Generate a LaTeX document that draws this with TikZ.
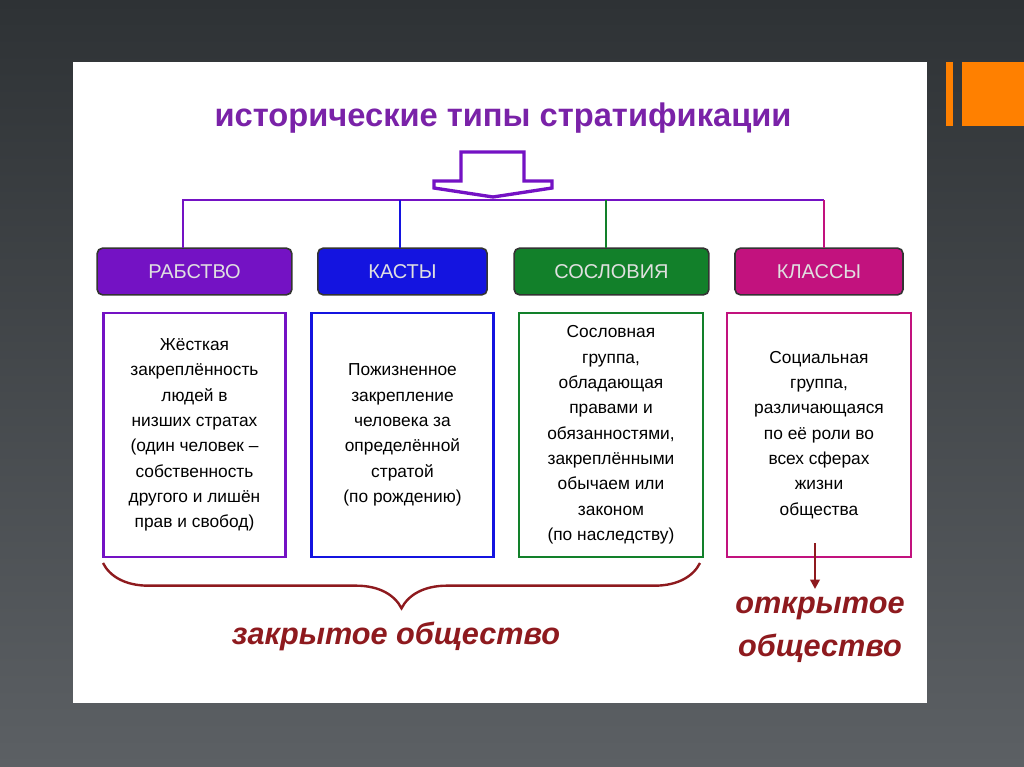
\documentclass[tikz,border=0pt]{standalone}
\usepackage{fontspec}
\setmainfont{Liberation Sans}
\usetikzlibrary{decorations.pathreplacing,arrows.meta}
\definecolor{cpur}{HTML}{7412C4}
\definecolor{cblu}{HTML}{1414E0}
\definecolor{cgrn}{HTML}{12802A}
\definecolor{cmag}{HTML}{C2127E}
\definecolor{ctit}{HTML}{7A22A8}
\definecolor{cred}{HTML}{8E1A1E}
\definecolor{bgtop}{HTML}{2E3235}
\definecolor{bgbot}{HTML}{5C6064}
\begin{document}
\begin{tikzpicture}[x=0.75pt,y=-0.75pt,
  hdr/.style={draw=black!80,line width=1.2pt,rounded corners=4pt,minimum height=35pt,text=white!88!black,font=\fontsize{15}{18}\selectfont,inner sep=0pt},
  desc/.style={draw,line width=2.2pt,minimum height=183pt,align=center,font=\fontsize{13}{19}\selectfont,inner sep=1pt},
  lnk/.style={line width=1.2pt}]
\shade[top color=bgtop,bottom color=bgbot] (0,0) rectangle (1024,767);
\useasboundingbox (0,0) rectangle (1024,767);
\fill[white] (73,62) rectangle (927,703);
\fill[orange] (946,62) rectangle (953,126);
\fill[orange] (962,62) rectangle (1024,126);
\node[text=ctit,font=\bfseries\fontsize{24.5}{30}\selectfont] (title) at (503,118) {исторические типы стратификации};
\draw[cpur,line width=2.5pt,line join=miter] (461,152) -- (524,152) -- (524,181) -- (552,181) -- (552,188) -- (493,197) -- (434,188) -- (434,181) -- (461,181) -- cycle;
\node[hdr,fill=cpur,minimum width=146pt] (h1) at (194.5,271.5) {РАБСТВО};
\node[hdr,fill=cblu,minimum width=127pt] (h2) at (402.5,271.5) {КАСТЫ};
\node[hdr,fill=cgrn,minimum width=146pt] (h3) at (611.5,271.5) {СОСЛОВИЯ};
\node[hdr,fill=cmag,minimum width=126pt] (h4) at (819,271.5) {КЛАССЫ};
\draw[lnk,cpur] (183,248) -- (183,200) -- (824,200);
\draw[lnk,cblu] (400,200) -- (400,248);
\draw[lnk,cgrn] (606,200) -- (606,248);
\draw[lnk,cmag] (824,200) -- (824,248);
\node[desc,cpur,minimum width=137pt,text=black] (d1) at (194.5,435) {Жёсткая\\закреплённость\\людей в\\низших стратах\\(один человек –\\собственность\\другого и лишён\\прав и свобод)};
\node[desc,cblu,minimum width=137pt,text=black] (d2) at (402.5,435) {Пожизненное\\закрепление\\человека за\\определённой\\стратой\\(по рождению)};
\node[desc,cgrn,minimum width=138pt,text=black] (d3) at (611,435) {Сословная\\группа,\\обладающая\\правами и\\обязанностями,\\закреплёнными\\обычаем или\\законом\\(по наследству)};
\node[desc,cmag,minimum width=138pt,text=black] (d4) at (819,435) {Социальная\\группа,\\различающаяся\\по её роли во\\всех сферах\\жизни\\общества};
\draw[cred,line width=1.8pt,decorate,decoration={brace,mirror,amplitude=34pt}] (103,563) -- (700,563);
\node[text=cred,font=\bfseries\itshape\fontsize{23}{26}\selectfont] (closed) at (396,636) {закрытое общество};
\node[text=cred,font=\bfseries\itshape\fontsize{23}{32}\selectfont,align=center] (open) at (820,630) {открытое\\общество};
\draw[cred,line width=1.8pt,-{Triangle[length=7pt,width=7pt]}] (815,543) -- (815,589);
\end{tikzpicture}
\end{document}
